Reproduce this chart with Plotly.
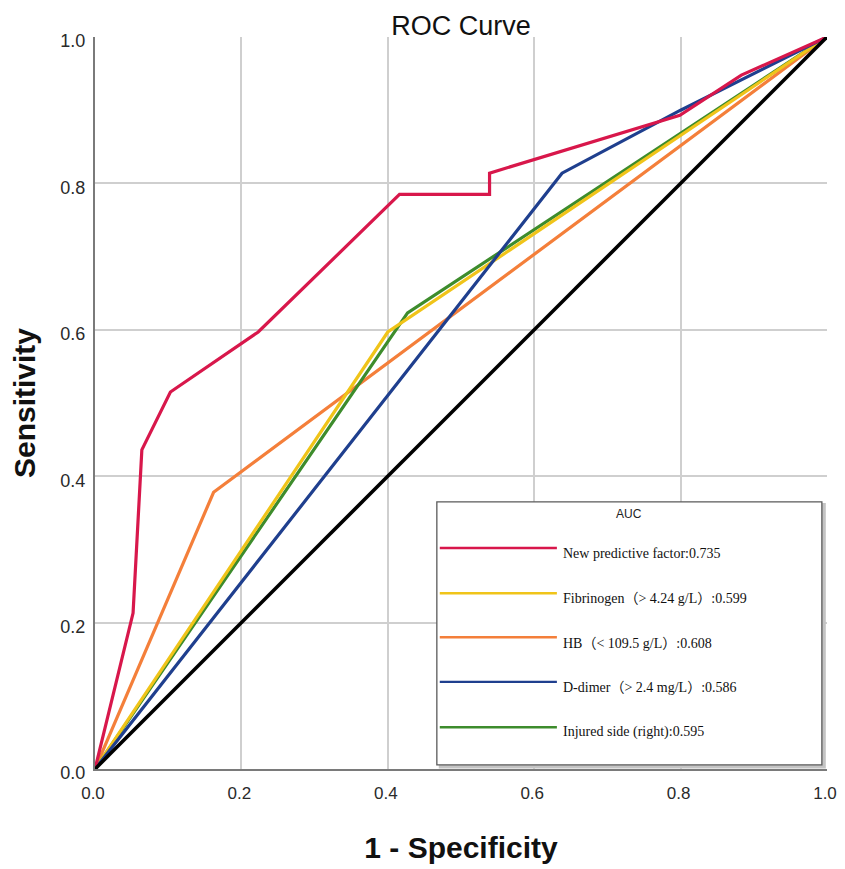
import plotly.graph_objects as go

# ROC curve points (1 - specificity, sensitivity)
new_factor_fpr = [0, 0.052, 0.064, 0.103, 0.223, 0.416, 0.539, 0.539, 0.799, 0.883, 1]
new_factor_tpr = [0, 0.213, 0.436, 0.515, 0.597, 0.785, 0.785, 0.814, 0.893, 0.948, 1]
fibrinogen_fpr = [0, 0.400, 1]
fibrinogen_tpr = [0, 0.597, 1]
hb_fpr = [0, 0.162, 1]
hb_tpr = [0, 0.378, 1]
ddimer_fpr = [0, 0.638, 0.800, 1]
ddimer_tpr = [0, 0.814, 0.900, 1]
injured_fpr = [0, 0.427, 1]
injured_tpr = [0, 0.623, 1]
ref_fpr = [0, 1]
ref_tpr = [0, 1]

labels = [
    "New predictive factor:0.735",
    "Fibrinogen（> 4.24 g/L）:0.599",
    "HB（< 109.5 g/L）:0.608",
    "D-dimer（> 2.4 mg/L）:0.586",
    "Injured side (right):0.595",
]
colors = ["#d8174b", "#f0c419", "#f47f3a", "#1f3f8e", "#3d8c2c"]
tick_vals = [0, 0.2, 0.4, 0.6, 0.8, 1.0]
tick_text = ["0.0", "0.2", "0.4", "0.6", "0.8", "1.0"]

curves = [
    (new_factor_fpr, new_factor_tpr),
    (fibrinogen_fpr, fibrinogen_tpr),
    (hb_fpr, hb_tpr),
    (ddimer_fpr, ddimer_tpr),
    (injured_fpr, injured_tpr),
]

fig = go.Figure()

# drawing order: orange, green, yellow, blue, red, then the reference line
for i in [2, 4, 1, 3, 0]:
    fpr, tpr = curves[i]
    fig.add_trace(go.Scatter(x=fpr, y=tpr, mode="lines", name=labels[i],
                             line=dict(color=colors[i], width=3.2), showlegend=False))
fig.add_trace(go.Scatter(x=ref_fpr, y=ref_tpr, mode="lines", name="Reference",
                         line=dict(color="black", width=3.6), showlegend=False))

# hand-made legend box, like the SPSS one
shapes = [
    dict(type="rect", xref="paper", yref="paper", x0=0.471, x1=0.997, y0=0.002, y1=0.362,
         line=dict(color="#c4c4c4", width=2), fillcolor="#c4c4c4", layer="above"),
    dict(type="rect", xref="paper", yref="paper", x0=0.467, x1=0.993, y0=0.0055, y1=0.365,
         line=dict(color="#5a5a5a", width=1.3), fillcolor="white", layer="above"),
]
annotations = [
    dict(text="AUC", xref="paper", yref="paper", x=0.730, y=0.349, showarrow=False,
         xanchor="center", yanchor="middle",
         font=dict(family="Liberation Sans, Arial", size=12, color="#222")),
]
line_y = [0.302, 0.240, 0.180, 0.119, 0.057]
text_y = [0.294, 0.233, 0.172, 0.111, 0.051]
for i, lab in enumerate(labels):
    shapes.append(dict(type="line", xref="paper", yref="paper", x0=0.471, x1=0.631,
                       y0=line_y[i], y1=line_y[i], layer="above",
                       line=dict(color=colors[i], width=2.4)))
    annotations.append(dict(text=lab.replace("<", "&lt;").replace(">", "&gt;"),
                            xref="paper", yref="paper", x=0.636, y=text_y[i],
                            showarrow=False, xanchor="left", yanchor="middle",
                            font=dict(family="Liberation Serif, Times New Roman, Noto Sans CJK SC",
                                      size=14, color="#111")))

# the page body keeps its 8px default margin, so the figure is made smaller
fig.update_layout(
    width=837, height=861,
    margin=dict(l=87, r=18, t=29, b=100, autoexpand=False),
    paper_bgcolor="white", plot_bgcolor="white",
    title=dict(text="ROC Curve", x=0.5, xref="paper", y=0.980, yref="container",
               xanchor="center", yanchor="middle",
               font=dict(family="Liberation Sans, Arial", size=27, color="#111")),
    shapes=shapes,
    annotations=annotations,
    showlegend=False,
)
fig.update_xaxes(range=[0, 1], tickvals=tick_vals, ticktext=tick_text, automargin=False,
                 showgrid=True, gridcolor="#cfcfcf", gridwidth=2, zeroline=False,
                 showline=True, linecolor="#7a7a7a", linewidth=2, ticks="",
                 ticklabelstandoff=8, ticklabelshift=-2,
                 tickfont=dict(family="Liberation Sans, Arial", size=17, color="#2a2a2a"),
                 title=dict(text="<b>1 - Specificity</b>", standoff=35,
                            font=dict(family="Liberation Sans, Arial", size=30, color="#111")))
fig.update_yaxes(range=[0, 1], tickvals=tick_vals, ticktext=tick_text, automargin=False,
                 showgrid=True, gridcolor="#cfcfcf", gridwidth=2, zeroline=False,
                 showline=True, linecolor="#7a7a7a", linewidth=2, ticks="",
                 ticklabelstandoff=4, ticklabelshift=4,
                 tickfont=dict(family="Liberation Sans, Arial", size=18, color="#2a2a2a"),
                 title=dict(text="<b>Sensitivity</b>", standoff=26,
                            font=dict(family="Liberation Sans, Arial", size=30, color="#111")))

fig.write_html("out.html")
